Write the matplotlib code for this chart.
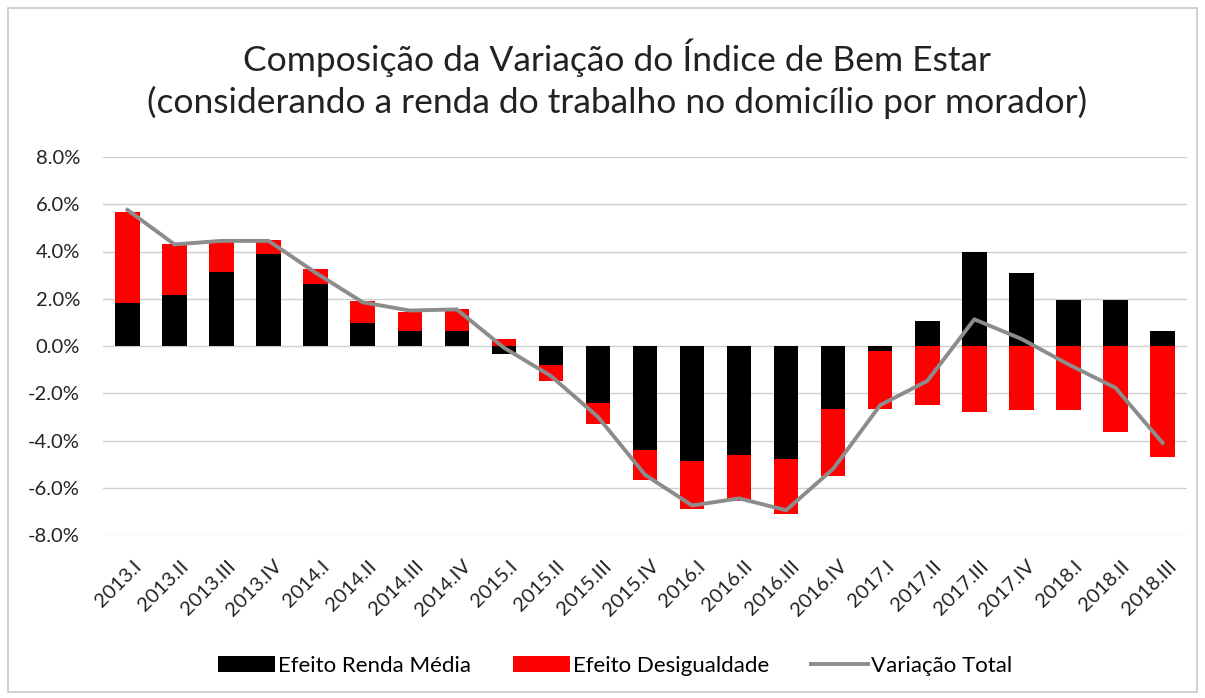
import matplotlib
matplotlib.use("Agg")
import matplotlib.pyplot as plt
import matplotlib.transforms as mtransforms
import numpy as np
from matplotlib.patches import Rectangle
from matplotlib.ticker import FuncFormatter

categories = ["2013.I", "2013.II", "2013.III", "2013.IV", "2014.I", "2014.II", "2014.III", "2014.IV",
              "2015.I", "2015.II", "2015.III", "2015.IV", "2016.I", "2016.II", "2016.III", "2016.IV",
              "2017.I", "2017.II", "2017.III", "2017.IV", "2018.I", "2018.II", "2018.III"]
renda_media = [1.81, 2.16, 3.14, 3.88, 2.61, 0.99, 0.62, 0.62,
               -0.35, -0.80, -2.43, -4.42, -4.87, -4.62, -4.77, -2.68,
               -0.22, 1.06, 3.98, 3.11, 1.94, 1.94, 0.64]
desigualdade = [3.88, 2.15, 1.31, 0.61, 0.67, 0.92, 0.80, 0.93,
                0.28, -0.70, -0.86, -1.27, -2.05, -1.92, -2.36, -2.83,
                -2.46, -2.51, -2.78, -2.71, -2.71, -3.63, -4.69]
variacao_total = [5.76, 4.30, 4.45, 4.45, 3.10, 1.85, 1.50, 1.55,
                  -0.07, -1.27, -3.00, -5.45, -6.75, -6.45, -6.95, -5.20,
                  -2.50, -1.48, 1.13, 0.30, -0.78, -1.77, -4.10]
y_ticks = [-8, -6, -4, -2, 0, 2, 4, 6, 8]

plt.rcParams['font.family'] = ['Lato', 'DejaVu Sans']

W, H = 1205, 698
fig = plt.figure(figsize=(W / 100, H / 100), dpi=100)
fig.patches.append(Rectangle((8 / W, 6 / H), (W - 16) / W, (H - 14) / H, transform=fig.transFigure,
                             fill=False, edgecolor="#c8c8c8", linewidth=1.2))

ax = fig.add_axes([103 / W, 1 - 535 / H, (1187 - 103) / W, (535 - 157) / H])
x = np.arange(len(categories))
rm = np.array(renda_media)
ds = np.array(desigualdade)
red_bottom = np.where(np.sign(rm) == np.sign(ds), rm, 0.0)

ax.bar(x, rm, width=0.52, color="black", label="Efeito Renda Média", zorder=2)
ax.bar(x, ds, bottom=red_bottom, width=0.52, color="#ff0000", label="Efeito Desigualdade", zorder=2)
ax.plot(x, variacao_total, color="#8c8c8c", linewidth=2.8, label="Variação Total", zorder=3)

ax.set_ylim(-8, 8)
ax.set_xlim(-0.5 - 0.02, len(categories) - 0.5 + 0.02)
ax.set_yticks(y_ticks)
ax.yaxis.set_major_formatter(FuncFormatter(lambda v, p: f"{v:.1f}%"))
ax.grid(axis="y", color="#d0d0d0", linewidth=1.0, zorder=0)
for s in ax.spines.values():
    s.set_visible(False)
ax.tick_params(axis="both", length=0, colors="#222222")
ax.tick_params(axis="y", pad=16.5, labelsize=14.5)
ax.set_xticks(x)
ax.set_xticklabels(categories, rotation=45, ha="right", rotation_mode="anchor", fontsize=14.5)
ax.tick_params(axis="x", pad=16)
offset = mtransforms.ScaledTranslation(5 / 100, 0, fig.dpi_scale_trans)
for lbl in ax.get_xticklabels():
    lbl.set_transform(lbl.get_transform() + offset)

fig.text(617 / W, 1 - 58 / H, "Composição da Variação do Índice de Bem Estar", ha="center", va="center",
         fontsize=25.5, color="#222222")
fig.text(617 / W, 1 - 102 / H, "(considerando a renda do trabalho no domicílio por morador)", ha="center",
         va="center", fontsize=25.5, color="#222222")

handles, labels = ax.get_legend_handles_labels()
h = [handles[1], handles[2], handles[0]]
l = [labels[1], labels[2], labels[0]]
leg = fig.legend(h, l, loc="center", bbox_to_anchor=(615 / W, 1 - 666 / H), ncol=3, frameon=False,
                 fontsize=16, handlelength=2.55, handleheight=0.75, handletextpad=0.13, columnspacing=1.9)

fig.savefig("out.png", dpi=100, facecolor="white")
